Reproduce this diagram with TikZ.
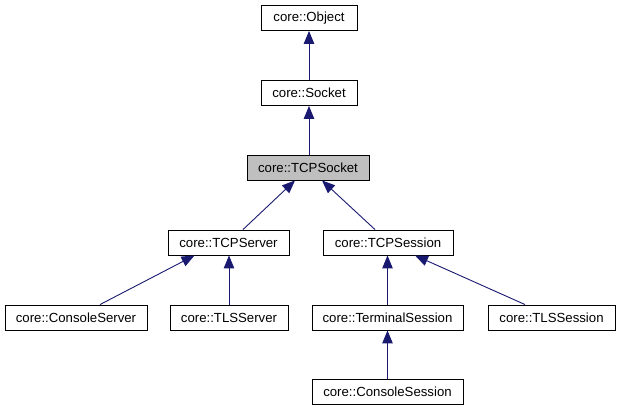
\documentclass[tikz,border=0pt]{standalone}
\usepackage{fontspec}
\setmainfont{Liberation Sans}
\usetikzlibrary{arrows.meta}
\definecolor{edgeblue}{HTML}{191970}
\definecolor{curgray}{HTML}{BFBFBF}
\tikzset{
  cls/.style={draw=black, line width=0.9pt, fill=white, inner sep=0pt, minimum height=25pt,
    font=\fontsize{13.2}{15}\selectfont, text=black},
  cur/.style={cls, fill=curgray},
  inh/.style={draw=edgeblue, line width=0.9pt, -{Triangle[length=13pt,width=10.5pt]}, edgeblue}
}
\begin{document}
\begin{tikzpicture}[x=1pt,y=-1pt]
\useasboundingbox (0,0) rectangle (621,411);
\node[cls, minimum width=96pt]  (obj)     at (309,18)    {core::Object};
\node[cls, minimum width=96pt]  (sock)    at (309,93)    {core::Socket};
\node[cur, minimum width=122pt] (tcpsock) at (308,167.5) {core::TCPSocket};
\node[cls, minimum width=121pt] (srv)     at (228.5,242.5) {core::TCPServer};
\node[cls, minimum width=130pt] (sess)    at (388,242.5) {core::TCPSession};
\node[cls, minimum width=142pt] (csrv)    at (76,317.5)  {core::ConsoleServer};
\node[cls, minimum width=118pt] (tlssrv)  at (229,317.5) {core::TLSServer};
\node[cls, minimum width=151pt] (term)    at (387.5,317.5) {core::TerminalSession};
\node[cls, minimum width=127pt] (tlssess) at (551.5,317.5) {core::TLSSession};
\node[cls, minimum width=151pt] (csess)   at (387.5,392) {core::ConsoleSession};

\draw[inh] (sock.north) -- (obj.south);
\draw[inh] (tcpsock.north -| sock.south) -- (sock.south);
\draw[inh] ([xshift=14.5pt]srv.north) -- ([xshift=-13pt]tcpsock.south);
\draw[inh] ([xshift=-13pt]sess.north) -- ([xshift=14pt]tcpsock.south);
\draw[inh] ([xshift=24pt]csrv.north) -- ([xshift=-34pt]srv.south);
\draw[inh] (tlssrv.north) -- (tlssrv.north |- srv.south);
\draw[inh] (term.north) -- (term.north |- sess.south);
\draw[inh] ([xshift=-26.5pt]tlssess.north) -- ([xshift=27pt]sess.south);
\draw[inh] (csess.north) -- (term.south);
\end{tikzpicture}
\end{document}
